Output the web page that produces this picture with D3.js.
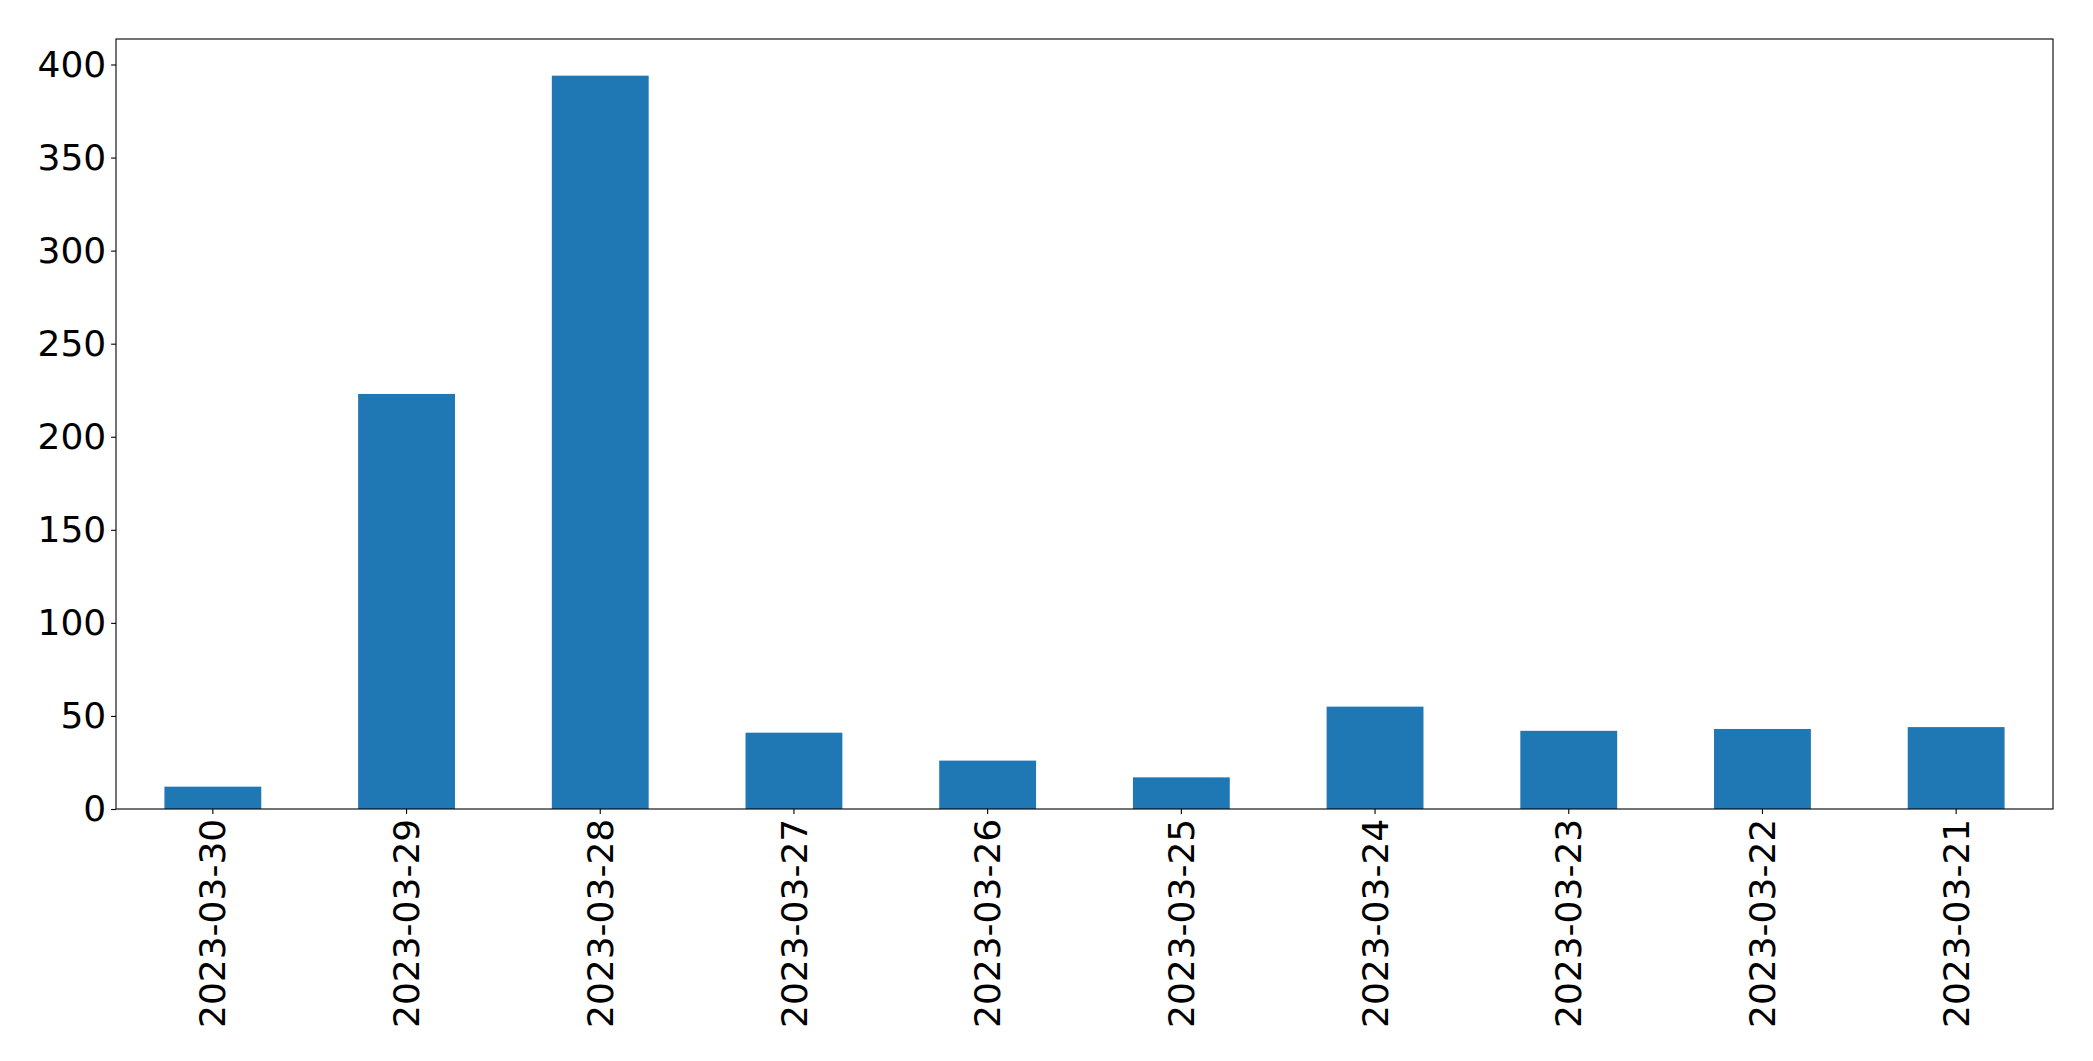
<!DOCTYPE html>
<html>
<head>
<meta charset="utf-8">
<script src="https://cdn.jsdelivr.net/npm/d3@7"></script>
<style>
  html, body { margin: 0; padding: 0; background: #fff; }
  svg { display: block; }
  text { font-family: "DejaVu Sans", sans-serif; fill: #000; }
</style>
</head>
<body>
<svg id="chart" width="2093" height="1061"></svg>
<script>
const categories = ["2023-03-30","2023-03-29","2023-03-28","2023-03-27","2023-03-26","2023-03-25","2023-03-24","2023-03-23","2023-03-22","2023-03-21"];
const values = [12, 223, 394, 41, 26, 17, 55, 42, 43, 44];
const yTicks = [0, 50, 100, 150, 200, 250, 300, 350, 400];

const W = 2093, H = 1061;
const margin = { left: 116, right: W - 2053, top: 39, bottom: H - 809 };
const svg = d3.select("#chart");
const g = svg.append("g").attr("transform", `translate(${margin.left},${margin.top})`);
const iw = 2053 - 116, ih = 809 - 39;

const x = d3.scaleBand().domain(categories).range([0, iw]).paddingInner(0.5).paddingOuter(0.25);
const y = d3.scaleLinear().domain([0, d3.max(values) * 1.05]).range([ih, 0]);

g.selectAll("rect.bar").data(categories).join("rect")
  .attr("class", "bar")
  .attr("x", d => x(d))
  .attr("width", x.bandwidth())
  .attr("y", (d, i) => y(values[i]))
  .attr("height", (d, i) => y(0) - y(values[i]))
  .attr("fill", "#1f77b4");

const fs = 36;
const yAxis = g.append("g")
  .call(d3.axisLeft(y).tickValues(yTicks).tickSize(4.9).tickPadding(4.9).tickFormat(d3.format("d")));
yAxis.select(".domain").remove();
yAxis.selectAll("line").attr("stroke", "#000").attr("stroke-width", 1.1);
yAxis.selectAll("text").style("font-size", fs + "px").attr("font-family", "DejaVu Sans");

const xAxis = g.append("g").attr("transform", `translate(0,${ih})`)
  .call(d3.axisBottom(x).tickSize(4.9).tickPadding(4.9));
xAxis.select(".domain").remove();
xAxis.selectAll("line").attr("stroke", "#000").attr("stroke-width", 1.1);
xAxis.selectAll("text")
  .style("font-size", fs + "px")
  .attr("font-family", "DejaVu Sans")
  .attr("transform", "rotate(-90)")
  .attr("x", -9.8)
  .attr("y", 0)
  .attr("dy", "0.35em")
  .attr("text-anchor", "end");

g.append("rect").attr("x", 0).attr("y", 0).attr("width", iw).attr("height", ih)
  .attr("fill", "none").attr("stroke", "#000").attr("stroke-width", 1.1);
</script>
</body>
</html>
